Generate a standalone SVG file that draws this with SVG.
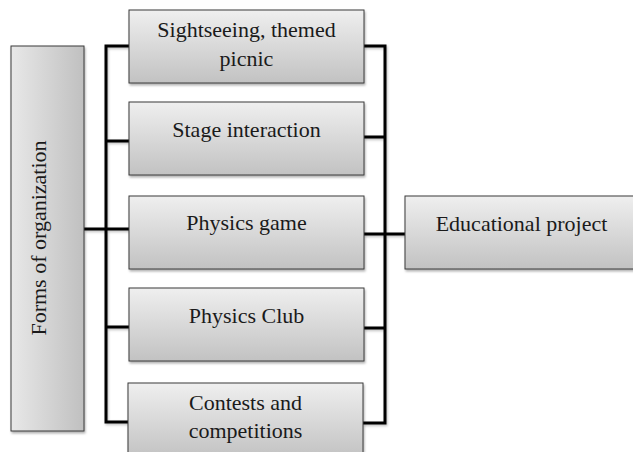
<svg xmlns="http://www.w3.org/2000/svg" width="633" height="452" viewBox="0 0 633 452">
<style>
.box{stroke:#3a3a3a;stroke-width:1;fill:url(#gv);filter:url(#sh)}
.lbox{stroke:#3a3a3a;stroke-width:1;fill:url(#gh);filter:url(#sh)}
.t{font-family:"Liberation Serif","Times New Roman",serif;font-size:22px;fill:#1a1a1a;text-anchor:middle}
.c{fill:none;stroke:#000;stroke-width:3;stroke-linejoin:miter;filter:url(#lsh)}
</style>
<defs>
<linearGradient id="gv" x1="0" y1="0" x2="0" y2="1">
<stop offset="0" stop-color="#efefef"/>
<stop offset="1" stop-color="#c2c2c2"/>
</linearGradient>
<linearGradient id="gh" x1="0" y1="0" x2="1" y2="0">
<stop offset="0" stop-color="#e8e8e8"/>
<stop offset="1" stop-color="#c0c0c0"/>
</linearGradient>
<filter id="sh" x="-10%" y="-10%" width="120%" height="120%">
<feDropShadow dx="1" dy="2" stdDeviation="1.2" flood-color="#000" flood-opacity="0.3"/>
</filter>
<filter id="lsh" x="-10%" y="-10%" width="120%" height="120%">
<feDropShadow dx="1" dy="1.5" stdDeviation="1" flood-color="#000" flood-opacity="0.25"/>
</filter>
</defs>
<g id="connectors">
<path class="c" d="M129 46 H106 V422 H129 M106 141 H129 M106 229 H129 M106 327 H129 M84 229 H106"/>
<path class="c" d="M364 46 H385 V423 H363 M364 137 H385 M364 234 H385 M364 328 H385 M385 234 H405"/>
</g>
<g id="forms">
<rect class="lbox" x="11" y="46" width="73" height="385"/>
<text class="t" transform="translate(46,238) rotate(-90)">Forms of organization</text>
</g>
<g id="sightseeing">
<rect class="box" x="129" y="10" width="235" height="73"/>
<text class="t" x="246.5" y="37">Sightseeing, themed</text>
<text class="t" x="246.5" y="66">picnic</text>
</g>
<g id="stage">
<rect class="box" x="129" y="102" width="235" height="73"/>
<text class="t" x="246.5" y="137">Stage interaction</text>
</g>
<g id="game">
<rect class="box" x="129" y="196" width="235" height="73"/>
<text class="t" x="246.5" y="230">Physics game</text>
</g>
<g id="club">
<rect class="box" x="129" y="288" width="235" height="73"/>
<text class="t" x="246.5" y="323">Physics Club</text>
</g>
<g id="contests">
<rect class="box" x="128" y="383" width="235" height="75"/>
<text class="t" x="245.5" y="410">Contests and</text>
<text class="t" x="245.5" y="438">competitions</text>
</g>
<g id="project">
<rect class="box" x="405" y="196" width="235" height="73"/>
<text class="t" x="521.5" y="231">Educational project</text>
</g>
</svg>
